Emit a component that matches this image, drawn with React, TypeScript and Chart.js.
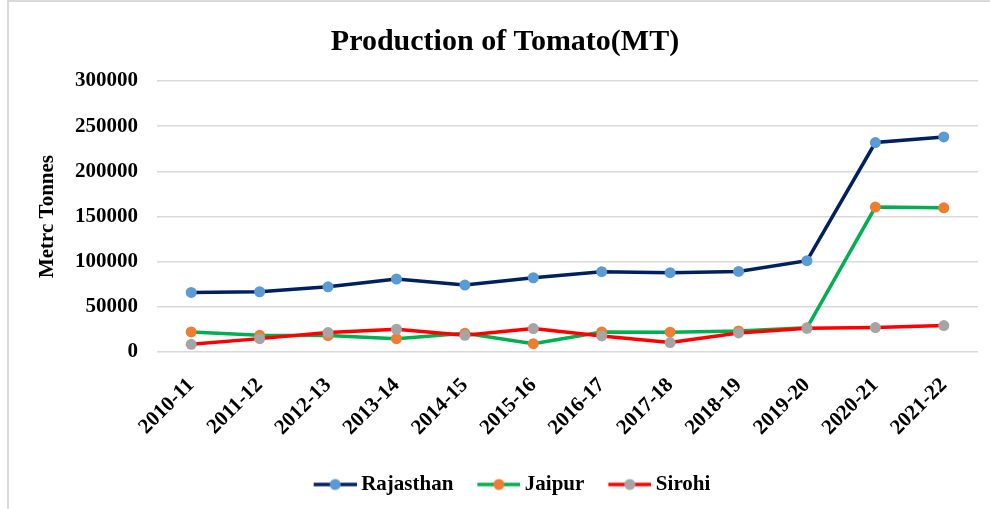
import React, { useEffect, useRef } from "react";
import { Chart, registerables } from "chart.js";

Chart.register(...registerables);

const categories = [
  "2010-11", "2011-12", "2012-13", "2013-14", "2014-15", "2015-16",
  "2016-17", "2017-18", "2018-19", "2019-20", "2020-21", "2021-22",
];
const rajasthan = [66000, 66700, 72200, 80800, 74100, 82200, 88900, 87800, 89200, 101100, 231900, 238100];
const jaipur = [22200, 18500, 18200, 14800, 20700, 9200, 22200, 21900, 23300, 26800, 160400, 159600];
const sirohi = [8500, 14800, 21500, 25200, 18500, 25900, 17800, 10400, 21100, 26300, 27000, 29200];

const seriesNames = ["Rajasthan", "Jaipur", "Sirohi"];
const lineColors = ["#002060", "#00B050", "#FF0000"];
const markerColors = ["#5B9BD5", "#ED7D31", "#A5A5A5"];

const chartTitle = "Production of Tomato(MT)";
const yTitle = "Metrc Tonnes";
const yMin = 0;
const yMax = 300000;
const yStep = 50000;

const FONT = "'Times New Roman', 'Liberation Serif', serif";

function legendImage(line: string, marker: string): HTMLCanvasElement {
  const c = document.createElement("canvas");
  c.width = 63;
  c.height = 14;
  const ctx = c.getContext("2d")!;
  ctx.strokeStyle = line;
  ctx.lineWidth = 3.5;
  ctx.beginPath();
  ctx.moveTo(20, 7);
  ctx.lineTo(63, 7);
  ctx.stroke();
  ctx.fillStyle = marker;
  ctx.beginPath();
  ctx.arc(41.5, 7, 5.5, 0, Math.PI * 2);
  ctx.fill();
  return c;
}

const frame = {
  id: "frame",
  beforeDraw(chart: any) {
    const ctx = chart.ctx;
    ctx.save();
    ctx.fillStyle = "#ffffff";
    ctx.fillRect(0, 0, chart.width, chart.height);
    ctx.fillStyle = "#d9d9d9";
    ctx.fillRect(7, 0, 2, chart.height);
    ctx.fillRect(7, 0, chart.width - 7, 2);
    ctx.restore();
  },
};

export default function App() {
  const ref = useRef<HTMLCanvasElement | null>(null);

  useEffect(() => {
    if (!ref.current) return;
    const values = [rajasthan, jaipur, sirohi];
    const images = seriesNames.map((_, i) => legendImage(lineColors[i], markerColors[i]));
    const chart = new Chart(ref.current, {
      type: "line",
      data: {
        labels: categories,
        datasets: seriesNames.map((name, i) => ({
          label: name,
          data: values[i],
          borderColor: lineColors[i],
          backgroundColor: markerColors[i],
          borderWidth: 3.5,
          pointRadius: 5.5,
          pointBorderWidth: 0,
          pointBackgroundColor: markerColors[i],
          pointBorderColor: markerColors[i],
          tension: 0,
          fill: false,
          order: 3 - i,
        })),
      },
      options: {
        responsive: false,
        animation: false,
        events: [],
        layout: { padding: { top: 0, left: 32, right: 12, bottom: 4 } },
        plugins: {
          title: {
            display: true,
            text: chartTitle,
            color: "#000",
            font: { family: FONT, size: 30, weight: "bold" },
            padding: { top: 24, bottom: 21 },
          },
          legend: {
            position: "bottom",
            labels: {
              usePointStyle: true,
              pointStyleWidth: 51,
              padding: 10,
              color: "#000",
              font: { family: FONT, size: 21, weight: "bold" },
              generateLabels: () =>
                seriesNames.map((name, i) => ({
                  text: name,
                  pointStyle: images[i],
                  fillStyle: markerColors[i],
                  strokeStyle: lineColors[i],
                  lineWidth: 0,
                  hidden: false,
                  datasetIndex: i,
                })),
            },
          },
          tooltip: { enabled: false },
        },
        scales: {
          x: {
            offset: true,
            grid: { display: false },
            border: { display: false },
            ticks: {
              color: "#000",
              font: { family: FONT, size: 21, weight: "bold" },
              maxRotation: 45,
              minRotation: 45,
              padding: 13,
              autoSkip: false,
            },
            afterFit: (s: any) => {
              s.height = 112;
            },
          },
          y: {
            min: yMin,
            max: yMax,
            border: { display: false },
            grid: { color: "#d9d9d9", lineWidth: 1.5, drawTicks: false },
            ticks: {
              stepSize: yStep,
              color: "#000",
              padding: 19,
              font: { family: FONT, size: 21, weight: "bold" },
              callback: (v: any) => String(v),
            },
            title: {
              display: true,
              text: yTitle,
              color: "#000",
              font: { family: FONT, size: 21, weight: "bold" },
              padding: { top: 3, bottom: 0 },
            },
            afterFit: (s: any) => {
              s.width = 125;
            },
          },
        },
      },
      plugins: [frame],
    });
    return () => chart.destroy();
  }, []);

  return (
    <div style={{ position: "absolute", left: 0, top: 0, width: 990, height: 509 }}>
      <canvas ref={ref} width={990} height={509} />
    </div>
  );
}
